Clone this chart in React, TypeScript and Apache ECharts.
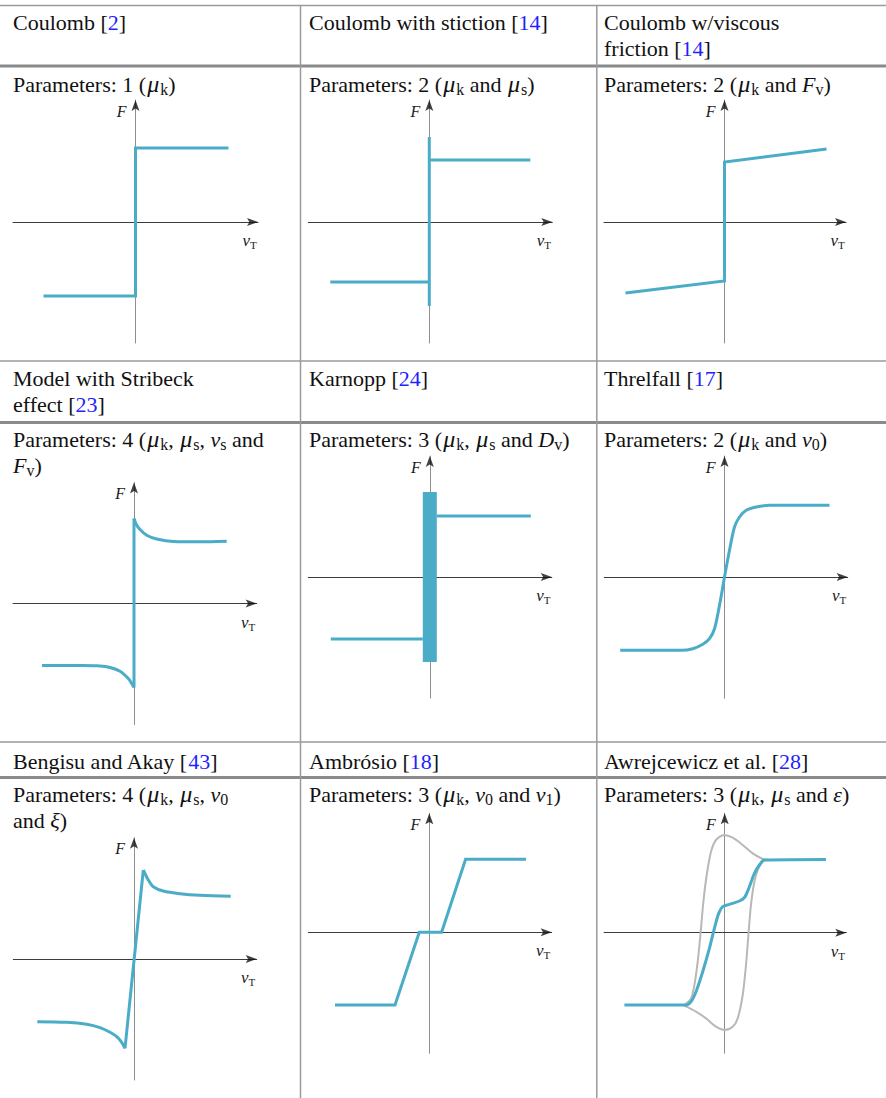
import React, { useEffect, useRef } from "react";
import * as echarts from "echarts";

// ---- Friction-model curves (v_T on x, F on y; origin at 0,0) ----
const COULOMB = [[-0.92, -0.74], [0, -0.74], [0, 0.74], [0.93, 0.74]];

const STICTION_NEG = [[-0.99, -0.6], [0, -0.6]];
const STICTION_BREAK = [[0, -0.84], [0, 0.85]];
const STICTION_POS = [[0, 0.62], [1.01, 0.62]];

const VISCOUS = [[-0.99, -0.71], [0, -0.59], [0, 0.6], [1.02, 0.73]];

const STRIBECK_NEG = [[-0.92, -0.62], [-0.51, -0.62], [-0.4, -0.622], [-0.27, -0.633], [-0.14, -0.677], [-0.057, -0.75], [-0.023, -0.8], [0, -0.84]];
const STRIBECK_STICK = [[0, -0.84], [0, 0.85]];
const STRIBECK_POS = [[0, 0.85], [0.023, 0.79], [0.06, 0.74], [0.127, 0.683], [0.227, 0.645], [0.393, 0.62], [0.66, 0.617], [0.927, 0.623]];

const KARNOPP_NEG = [[-0.99, -0.62], [-0.07, -0.62]];
const KARNOPP_POS = [[0.07, 0.61], [1.01, 0.61]];
// [vMin, Fmin, vMax, Fmax] of the zero-velocity band
const KARNOPP_BAND = [[-0.07, -0.85, 0.07, 0.85]];

const THRELFALL = [[-1.043, -0.733], [-0.433, -0.733], [-0.317, -0.717], [-0.217, -0.673], [-0.15, -0.617], [-0.1, -0.517], [-0.05, -0.283], [0, 0], [0.05, 0.267], [0.1, 0.5], [0.15, 0.6], [0.217, 0.667], [0.317, 0.7], [0.45, 0.717], [1.05, 0.717]];

const BENGISU_NEG = [[-0.967, -0.627], [-0.673, -0.633], [-0.473, -0.653], [-0.34, -0.687], [-0.24, -0.733], [-0.173, -0.777], [-0.123, -0.833], [-0.09, -0.893]];
const BENGISU_RISE = [[-0.09, -0.893], [0.093, 0.89]];
const BENGISU_POS = [[0.093, 0.89], [0.143, 0.79], [0.193, 0.723], [0.293, 0.68], [0.46, 0.653], [0.66, 0.637], [0.967, 0.627]];

const AMBROSIO = [[-0.943, -0.727], [-0.343, -0.727], [-0.1, 0], [0.123, 0], [0.363, 0.73], [0.967, 0.73]];

const AWREJ = [[-1.003, -0.723], [-0.387, -0.723], [-0.337, -0.69], [-0.287, -0.59], [-0.22, -0.39], [-0.153, -0.157], [-0.103, 0.043], [-0.06, 0.193], [-0.02, 0.26], [0.047, 0.283], [0.147, 0.317], [0.197, 0.35], [0.247, 0.46], [0.297, 0.593], [0.347, 0.677], [0.397, 0.727], [1.013, 0.733]];
const AWREJ_UPPER = [[-0.403, -0.723], [-0.337, -0.657], [-0.303, -0.523], [-0.27, -0.29], [-0.243, -0.023], [-0.213, 0.31], [-0.18, 0.577], [-0.137, 0.81], [-0.087, 0.927], [-0.003, 0.977], [0.08, 0.95], [0.18, 0.877], [0.28, 0.793], [0.38, 0.737], [0.43, 0.727]];
const AWREJ_LOWER = [[-0.403, -0.73], [-0.287, -0.79], [-0.187, -0.857], [-0.087, -0.94], [-0.003, -0.973], [0.08, -0.94], [0.13, -0.857], [0.18, -0.623], [0.213, -0.323], [0.237, -0.023], [0.263, 0.28], [0.297, 0.51], [0.337, 0.643], [0.38, 0.71], [0.43, 0.733]];

// ---- Table text ----
const HEADERS = [
  ["Coulomb [{b|2}]", "Coulomb with stiction [{b|14}]", "Coulomb w/viscous\nfriction [{b|14}]"],
  ["Model with Stribeck\neffect [{b|23}]", "Karnopp [{b|24}]", "Threlfall [{b|17}]"],
  ["Bengisu and Akay [{b|43}]", "Ambrósio [{b|18}]", "Awrejcewicz et al. [{b|28}]"],
];
const PARAMS = [
  ["Parameters: 1 ({m|μ}{s|k})", "Parameters: 2 ({m|μ}{s|k} and {m|μ}{s|s})", "Parameters: 2 ({m|μ}{s|k} and {i|F}{s|v})"],
  ["Parameters: 4 ({m|μ}{s|k}, {m|μ}{s|s}, {i|v}{s|s} and\n{i|F}{s|v})", "Parameters: 3 ({m|μ}{s|k}, {m|μ}{s|s} and {i|D}{s|v})", "Parameters: 2 ({m|μ}{s|k} and {i|v}{s|0})"],
  ["Parameters: 4 ({m|μ}{s|k}, {m|μ}{s|s}, {i|v}{s|0}\nand {i|ξ})", "Parameters: 3 ({m|μ}{s|k}, {i|v}{s|0} and {i|v}{s|1})", "Parameters: 3 ({m|μ}{s|k}, {m|μ}{s|s} and {i|ε})"],
];

// ---- Layout ----
const W = 886;
const H = 1098;
const FONT = '"Liberation Serif", "Times New Roman", serif';
const BLUE = "#4aacc6";
const LOOP_GREY = "#b8b8b8";
const RULE = "#9a9a9a";
const COL_X = [13, 309, 604];
const HEADER_TOP = [9.6, 365.3, 748];
const PARAM_TOP = [71, 426.3, 781.3];
const THIN_RULES = [5.5, 361, 742];
const THICK_RULES = [66, 422.5, 777.5];
const V_RULES = [300.5, 596.8];
const SCALE = 100; // px per unit on every panel

// axis origin (cx, cy) and axis reach left/right/up/down in px
const PANELS = [
  { cx: 135.5, cy: 222, l: 122.5, r: 122.5, u: 122, d: 121 },
  { cx: 429.3, cy: 222, l: 121, r: 123, u: 122, d: 121 },
  { cx: 724.5, cy: 222, l: 120.5, r: 121.5, u: 122, d: 121 },
  { cx: 134, cy: 603.5, l: 121, r: 122.7, u: 121, d: 121 },
  { cx: 429.8, cy: 577, l: 121.5, r: 122, u: 121, d: 121 },
  { cx: 724.5, cy: 577, l: 120.2, r: 123.2, u: 121, d: 121.3 },
  { cx: 134, cy: 959, l: 120.7, r: 122.7, u: 121.3, d: 121 },
  { cx: 429.3, cy: 932.3, l: 121, r: 122.4, u: 119, d: 121 },
  { cx: 724.7, cy: 932.7, l: 120.6, r: 121.6, u: 119.4, d: 120.6 },
];

const X_ARROW = "path://M0,0L12,4.5L0,9L2.6,4.5Z";
const Y_ARROW = "path://M0,12L4.5,0L9,12L4.5,9.4Z";

const textRich = {
  i: { fontFamily: FONT, fontSize: 22, fontStyle: "italic", lineHeight: 26, fill: "#111" },
  m: { fontFamily: FONT, fontSize: 24, fontStyle: "italic", lineHeight: 26, padding: [0, 1, 0, 1], fill: "#111" },
  s: { fontFamily: FONT, fontSize: 16, lineHeight: 26, padding: [10, 0, 0, 0], fill: "#111" },
  b: { fontFamily: FONT, fontSize: 22, lineHeight: 26, fill: "#1f1fff" },
};

function cellText(x: number, y: number, text: string) {
  return {
    type: "text",
    x,
    y,
    silent: true,
    style: {
      text,
      fontFamily: FONT,
      fontSize: 22,
      lineHeight: 26,
      fill: "#111",
      align: "left",
      verticalAlign: "top",
      rich: textRich,
    },
  };
}

function rule(x1: number, y1: number, x2: number, y2: number, w: number, c: string) {
  return { type: "line", silent: true, shape: { x1, y1, x2, y2 }, style: { stroke: c, lineWidth: w } };
}

function curve(i: number, data: number[][], opts: any = {}) {
  return {
    type: "line",
    xAxisIndex: i,
    yAxisIndex: i,
    data,
    symbol: "none",
    showSymbol: false,
    smooth: opts.smooth || 0,
    silent: true,
    clip: false,
    z: opts.z || 4,
    lineStyle: { color: opts.color || BLUE, width: opts.width || 3, join: "miter", cap: "butt" },
  };
}

export default function App() {
  const ref = useRef<HTMLDivElement>(null);

  useEffect(() => {
    if (!ref.current) return;
    const chart = echarts.init(ref.current, null, { renderer: "svg", width: W, height: H });

    const grids = PANELS.map((p) => ({
      left: p.cx - p.l,
      top: p.cy - p.u,
      width: p.l + p.r,
      height: p.u + p.d,
      containLabel: false,
      outerBoundsMode: "none",
    }));

    const xAxes = PANELS.map((p, i) => ({
      type: "value",
      gridIndex: i,
      min: -p.l / SCALE,
      max: p.r / SCALE,
      axisLine: { onZero: true, lineStyle: { color: "#3c3c3c", width: 1 } },
      axisTick: { show: false },
      axisLabel: { show: false },
      splitLine: { show: false },
      name: "{v|v}{t|T}",
      nameLocation: "end",
      nameGap: -8.5,
      nameMoveOverlap: false,
      nameTextStyle: {
        align: "center",
        verticalAlign: "top",
        padding: [9, 0, 0, 0],
        rich: {
          v: { fontFamily: FONT, fontStyle: "italic", fontSize: 17, lineHeight: 19, color: "#1a1a1a" },
          t: { fontFamily: FONT, fontSize: 11, lineHeight: 19, padding: [9, 0, 0, 0], color: "#1a1a1a" },
        },
      },
    }));

    const yAxes = PANELS.map((p, i) => ({
      type: "value",
      gridIndex: i,
      min: -p.d / SCALE,
      max: p.u / SCALE,
      axisLine: { onZero: true, lineStyle: { color: "#8e8e8e", width: 1 } },
      axisTick: { show: false },
      axisLabel: { show: false },
      splitLine: { show: false },
      name: "F",
      nameLocation: "end",
      nameGap: -11,
      nameMoveOverlap: false,
      nameTextStyle: {
        fontFamily: FONT,
        fontStyle: "italic",
        fontSize: 16,
        color: "#1a1a1a",
        align: "right",
        verticalAlign: "middle",
        padding: [0, 9, 0, 0],
      },
    }));

    const arrows: any[] = [];
    PANELS.forEach((p, i) => {
      arrows.push({
        type: "scatter",
        xAxisIndex: i,
        yAxisIndex: i,
        data: [[p.r / SCALE, 0]],
        symbol: X_ARROW,
        symbolSize: [11, 8],
        symbolOffset: [-5.5, 0],
        itemStyle: { color: "#111" },
        silent: true,
        clip: false,
        z: 6,
      });
      arrows.push({
        type: "scatter",
        xAxisIndex: i,
        yAxisIndex: i,
        data: [[0, p.u / SCALE]],
        symbol: Y_ARROW,
        symbolSize: [8, 11],
        symbolOffset: [0, 5.5],
        itemStyle: { color: "#111" },
        silent: true,
        clip: false,
        z: 6,
      });
    });

    const series: any[] = [
      curve(0, COULOMB),
      curve(1, STICTION_NEG),
      curve(1, STICTION_BREAK),
      curve(1, STICTION_POS),
      curve(2, VISCOUS),
      curve(3, STRIBECK_NEG, { smooth: 0.3 }),
      curve(3, STRIBECK_STICK),
      curve(3, STRIBECK_POS, { smooth: 0.3 }),
      curve(4, KARNOPP_NEG),
      curve(4, KARNOPP_POS),
      {
        type: "custom",
        xAxisIndex: 4,
        yAxisIndex: 4,
        data: KARNOPP_BAND,
        encode: { x: [0, 2], y: [1, 3] },
        silent: true,
        clip: false,
        z: 4,
        renderItem: (_params: any, api: any) => {
          const a = api.coord([api.value(0), api.value(3)]);
          const b = api.coord([api.value(2), api.value(1)]);
          return {
            type: "rect",
            shape: { x: a[0], y: a[1], width: b[0] - a[0], height: b[1] - a[1] },
            style: { fill: BLUE },
          };
        },
      },
      curve(5, THRELFALL, { smooth: 0.3 }),
      curve(6, BENGISU_NEG, { smooth: 0.3 }),
      curve(6, BENGISU_RISE),
      curve(6, BENGISU_POS, { smooth: 0.3 }),
      curve(7, AMBROSIO),
      curve(8, AWREJ_UPPER, { smooth: 0.3, color: LOOP_GREY, width: 2, z: 3 }),
      curve(8, AWREJ_LOWER, { smooth: 0.3, color: LOOP_GREY, width: 2, z: 3 }),
      curve(8, AWREJ, { smooth: 0.3 }),
      ...arrows,
    ];

    const elements: any[] = [];
    THIN_RULES.forEach((y) => elements.push(rule(0, y, W, y, 1.5, RULE)));
    THICK_RULES.forEach((y) => elements.push(rule(0, y, W, y, 3, "#8a8a8a")));
    V_RULES.forEach((x) => elements.push(rule(x, THIN_RULES[0], x, H, 1.5, RULE)));
    HEADERS.forEach((row, r) => row.forEach((t, c) => elements.push(cellText(COL_X[c], HEADER_TOP[r], t))));
    PARAMS.forEach((row, r) => row.forEach((t, c) => elements.push(cellText(COL_X[c], PARAM_TOP[r], t))));

    chart.setOption({
      animation: false,
      backgroundColor: "#ffffff",
      textStyle: { fontFamily: FONT },
      grid: grids,
      xAxis: xAxes,
      yAxis: yAxes,
      series,
      graphic: { elements },
    });

    return () => chart.dispose();
  }, []);

  return (
    <div
      ref={ref}
      style={{ position: "absolute", left: 0, top: 0, width: W, height: H, background: "#fff" }}
    />
  );
}
